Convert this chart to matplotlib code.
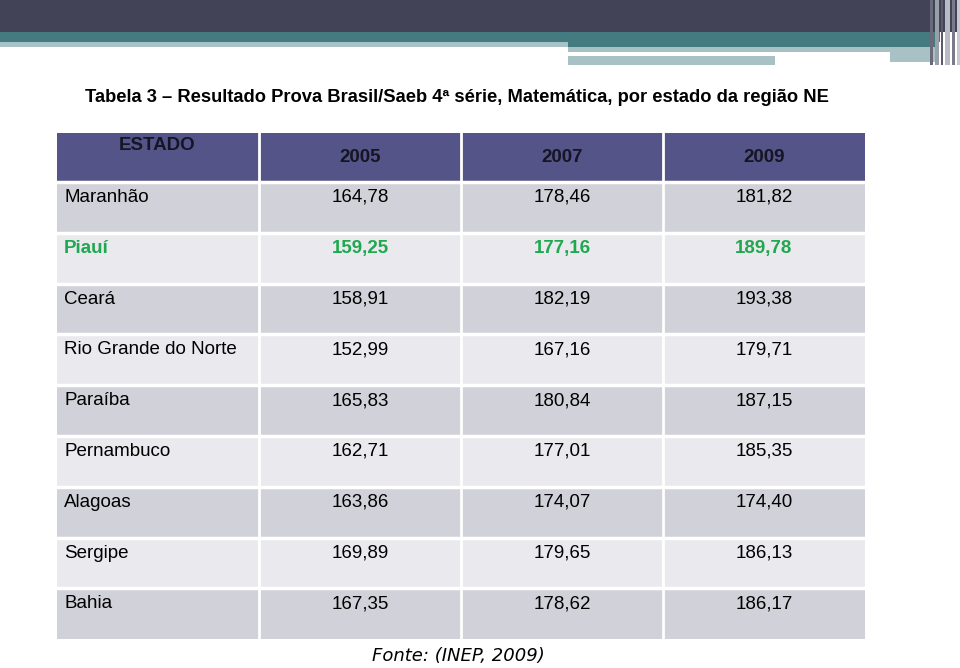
import matplotlib.pyplot as plt
from matplotlib.patches import Rectangle

# data
estados = ['Maranhão', 'Piauí', 'Ceará', 'Rio Grande do Norte', 'Paraíba',
           'Pernambuco', 'Alagoas', 'Sergipe', 'Bahia']
anos = ['2005', '2007', '2009']
v2005 = [164.78, 159.25, 158.91, 152.99, 165.83, 162.71, 163.86, 169.89, 167.35]
v2007 = [178.46, 177.16, 182.19, 167.16, 180.84, 177.01, 174.07, 179.65, 178.62]
v2009 = [181.82, 189.78, 193.38, 179.71, 187.15, 185.35, 174.40, 186.13, 186.17]
destaque = 'Piauí'

titulo = 'Tabela 3 \u2013 Resultado Prova Brasil/Saeb 4ª série, Matemática, por estado da região NE'
fonte = 'Fonte: (INEP, 2009)'

W, H = 960, 668
fig = plt.figure(figsize=(W / 100, H / 100), dpi=100)
ax = fig.add_axes([0, 0, 1, 1])
ax.set_xlim(0, W)
ax.set_ylim(H, 0)
ax.axis('off')

def box(x0, y0, x1, y1, c, **kw):
    ax.add_patch(Rectangle((x0, y0), x1 - x0, y1 - y0, facecolor=c, edgecolor='none', **kw))

# banner on top of the slide
box(0, 0, 960, 32, '#434358')
box(0, 32, 940, 42, '#437b80')
box(0, 42, 568, 47, '#a7c1c5')
box(568, 42, 935, 47, '#437b80')
box(568, 47, 935, 52, '#a7c1c5')
box(568, 52, 890, 56, 'white')
box(890, 52, 935, 62, '#a7c1c5')
box(568, 56, 775, 65, '#a7c1c5')
for x, w, c in [(930, 3, '#6a6a7a'), (935, 4, '#9aa0aa'), (941, 2, '#5a5a6a'),
                (945, 5, '#b5bcc4'), (952, 3, '#7a7a88'), (957, 3, '#c5cad0')]:
    box(x, 0, x + w, 65, c)

ff = ['Liberation Sans', 'DejaVu Sans']

ax.text(85, 98, titulo, fontsize=13.2, fontweight='bold', va='center', ha='left',
        family=ff, color='black')

# table
col_x = [57, 259, 461, 663, 865]
head_top, head_bot = 133, 182
row_h = 50.8
fs = 13.5

for i in range(4):
    box(col_x[i], head_top, col_x[i + 1], head_bot, '#545488', zorder=1)
ax.text((col_x[0] + col_x[1]) / 2 - 1, 146, 'ESTADO', fontsize=fs, fontweight='bold',
        ha='center', va='center', color='#151525', family=ff)
for i, a in enumerate(anos):
    ax.text((col_x[i + 1] + col_x[i + 2]) / 2, 158, a, fontsize=fs, fontweight='bold',
            ha='center', va='center', color='#151525', family=ff)

valores = [v2005, v2007, v2009]
for r, est in enumerate(estados):
    top = head_bot + r * row_h
    cor = '#d1d1d9' if r % 2 == 0 else '#e9e9ee'
    for i in range(4):
        box(col_x[i], top, col_x[i + 1], top + row_h, cor, zorder=1)
    txt_c = '#1fa84f' if est == destaque else 'black'
    wt = 'bold' if est == destaque else 'normal'
    ax.text(64, top + 15.5, est, fontsize=fs, color=txt_c, fontweight=wt,
            ha='left', va='center', family=ff)
    for i, vals in enumerate(valores):
        s = f'{vals[r]:.2f}'.replace('.', ',')
        ax.text((col_x[i + 1] + col_x[i + 2]) / 2, top + 15.5, s, fontsize=fs,
                color=txt_c, fontweight=wt, ha='center', va='center', family=ff)

# white cell separators
table_bot = head_bot + len(estados) * row_h
for x in col_x[1:-1]:
    ax.plot([x, x], [head_top, table_bot], color='white', lw=2, zorder=2)
for r in range(len(estados)):
    y = head_bot + r * row_h
    ax.plot([col_x[0], col_x[-1]], [y, y], color='white', lw=2.5, zorder=2)

ax.text(458, 656, fonte, fontsize=13, style='italic', ha='center', va='center',
        color='black', family=['DejaVu Sans'])

fig.savefig('out.png', dpi=100)
